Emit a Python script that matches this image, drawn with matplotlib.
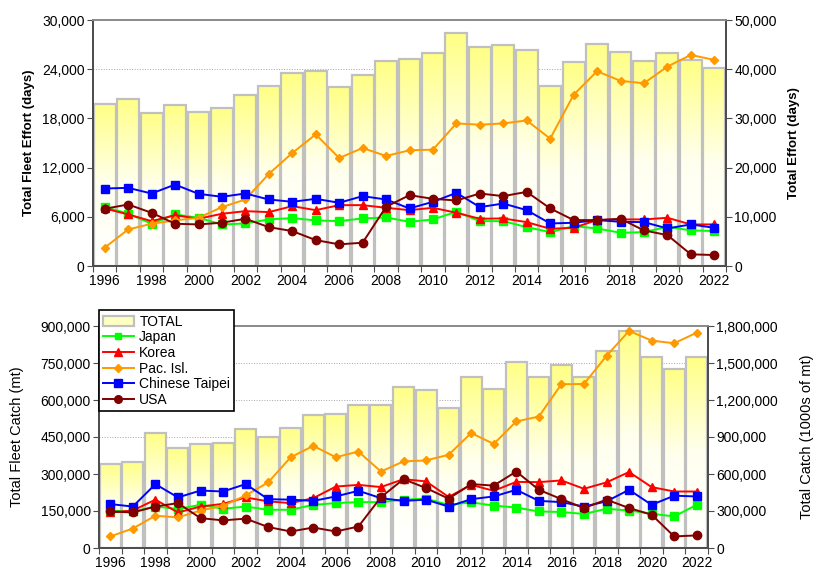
import numpy as np
import matplotlib
matplotlib.use("Agg")
import matplotlib.pyplot as plt
from matplotlib.colors import LinearSegmentedColormap
from matplotlib.patches import Patch
from matplotlib.lines import Line2D
from matplotlib.ticker import FuncFormatter, FixedLocator

plt.rcParams['font.family'] = ['Liberation Sans', 'DejaVu Sans']

# Data
years = list(range(1996, 2023))

effort_total = [32900, 34000, 31100, 32800, 31200, 32200, 34700, 36500, 39200, 39700,
                36400, 38900, 41700, 42000, 43200, 47300, 44500, 45000, 44000, 36500,
                41500, 45200, 43400, 41700, 43200, 41900, 40300]
effort_japan = [7220, 6370, 5150, 6290, 5880, 5070, 5190, 5680, 5840, 5560, 5470, 5800,
                5920, 5390, 5680, 6610, 5470, 5470, 4740, 4130, 4860, 4580, 4050, 4130,
                4780, 4340, 4260]
effort_korea = [7020, 6290, 5470, 6200, 5760, 6370, 6690, 6570, 7300, 6810, 7420, 7420,
                7100, 6810, 7100, 6490, 5760, 5800, 5350, 4540, 4660, 5600, 5680, 5680,
                5880, 5070, 5070]
effort_pacisl = [2240, 4460, 5150, 5560, 5880, 7180, 8110, 11230, 13780, 16050, 13170,
                 14390, 13420, 14110, 14190, 17390, 17230, 17390, 17750, 15530, 20880,
                 23750, 22580, 22290, 24320, 25740, 25130]
effort_taipei = [9450, 9530, 8840, 9930, 8800, 8440, 8840, 8110, 7830, 8190, 7710, 8520,
                 8110, 7020, 7830, 8920, 7180, 7620, 6810, 5190, 5270, 5600, 5390, 5350,
                 4580, 5070, 4660]
effort_usa = [6980, 7500, 6490, 5150, 5070, 5280, 5760, 4740, 4260, 3160, 2640, 2840,
              7220, 8640, 8190, 7990, 8840, 8520, 9040, 7020, 5600, 5600, 5760, 4340,
              3770, 1420, 1340]

catch_total = [683000, 694000, 936000, 810000, 845000, 855000, 966000, 901000, 977000,
               1077000, 1085000, 1158000, 1163000, 1303000, 1282000, 1136000, 1384000,
               1290000, 1506000, 1384000, 1482000, 1384000, 1600000, 1760000, 1552000,
               1455000, 1546000]
catch_japan = [152000, 148000, 168000, 158000, 175000, 159000, 168000, 155000, 155000,
               175000, 182000, 186000, 186000, 196000, 200000, 175000, 185000, 172000,
               164000, 148000, 146000, 138000, 159000, 152000, 139000, 128000, 175000]
catch_korea = [144000, 152000, 196000, 144000, 168000, 179000, 205000, 189000, 182000,
               202000, 249000, 256000, 247000, 279000, 270000, 207000, 256000, 232000,
               268000, 267000, 274000, 240000, 266000, 308000, 247000, 229000, 229000]
catch_pacisl = [47000, 79000, 131000, 124000, 152000, 171000, 213000, 266000, 368000,
                414000, 368000, 391000, 310000, 351000, 355000, 378000, 466000, 422000,
                513000, 533000, 664000, 665000, 779000, 880000, 841000, 830000, 873000]
catch_taipei = [178000, 168000, 259000, 205000, 233000, 229000, 259000, 198000, 196000,
                191000, 209000, 232000, 202000, 191000, 196000, 168000, 198000, 209000,
                236000, 191000, 186000, 168000, 189000, 236000, 175000, 212000, 209000]
catch_usa = [148000, 144000, 168000, 182000, 121000, 112000, 119000, 85000, 67000,
             83000, 67000, 87000, 206000, 279000, 243000, 200000, 259000, 253000,
             310000, 236000, 198000, 162000, 196000, 162000, 135000, 47000, 51000]

fleets = ['Japan', 'Korea', 'Pac. Isl.', 'Chinese Taipei', 'USA']
colors = ['#00FF00', '#FF0000', '#FF9900', '#0000FF', '#800000']
markers = ['s', '^', 'D', 's', 'o']
msizes = [5.5, 6, 4.5, 6, 6]

yellow = LinearSegmentedColormap.from_list('yw', ['#FFFFFF', '#FFFFF0', '#FFFF85'])
comma = FuncFormatter(lambda v, p: f'{v:,.0f}')
spine_col = '#4D4D4D'


def draw_panel(rect, totals, series, bar_max, bar_step, line_max, line_step,
               left_label, right_label, bold, lpad, rpad):
    x = np.arange(len(years))
    ax = fig.add_axes(rect)          # bars, right-hand scale
    ax2 = ax.twinx()                 # fleet lines, left-hand scale

    # yellow-to-white gradient inside every bar
    grad = np.linspace(1, 0, 256).reshape(-1, 1)
    w = 0.93
    for xi, h in zip(x, totals):
        ax.imshow(grad, extent=(xi - w / 2, xi + w / 2, 0, h), cmap=yellow,
                  vmin=0, vmax=1, aspect='auto', zorder=1, interpolation='bilinear')
    ax.bar(x, totals, width=w, facecolor='none', edgecolor='#C0C0C0',
           linewidth=1.6, zorder=2)

    for vals, c, m, ms in zip(series, colors, markers, msizes):
        ax2.plot(x, vals, color=c, marker=m, markersize=ms, linewidth=1.4)

    ax.set_xlim(-0.5, len(years) - 0.5)
    ax.set_ylim(0, bar_max)
    ax2.set_ylim(0, line_max)
    ax.yaxis.tick_right()
    ax.yaxis.set_label_position('right')
    ax2.yaxis.tick_left()
    ax2.yaxis.set_label_position('left')
    ax.set_yticks(np.arange(0, bar_max + 1, bar_step))
    ax2.set_yticks(np.arange(0, line_max + 1, line_step))
    ax.yaxis.set_major_formatter(comma)
    ax2.yaxis.set_major_formatter(comma)

    ax.set_axisbelow(True)
    ax.grid(axis='y', color='#A6A6A6', linestyle=':', linewidth=0.7)

    # ticks between categories, labels every other year
    ax.xaxis.set_major_locator(FixedLocator(np.arange(-0.5, len(years), 1)))
    ax.xaxis.set_minor_locator(FixedLocator(x[::2]))
    ax.xaxis.set_major_formatter(FuncFormatter(lambda v, p: ''))
    ax.xaxis.set_minor_formatter(FuncFormatter(lambda v, p: str(years[int(round(v))])))
    ax.tick_params(axis='x', which='major', length=4, color=spine_col)
    ax.tick_params(axis='x', which='minor', length=0, labelsize=10, pad=6)

    for a in (ax, ax2):
        a.tick_params(axis='y', length=4, color=spine_col, labelsize=10, pad=2)
        for s in a.spines.values():
            s.set_color(spine_col)
            s.set_linewidth(1.3)
        a.spines['top'].set_color('#8C8C8C')

    weight = 'bold' if bold else 'normal'
    size = 9.5 if bold else 10.5
    ax2.set_ylabel(left_label, fontsize=size, fontweight=weight, labelpad=lpad)
    ax.set_ylabel(right_label, fontsize=size, fontweight=weight, labelpad=rpad)
    return ax, ax2


fig = plt.figure(figsize=(8.22, 5.71), dpi=100)

draw_panel([93 / 822, 1 - 266 / 571, 633 / 822, 246 / 571], effort_total,
           [effort_japan, effort_korea, effort_pacisl, effort_taipei, effort_usa],
           50000, 10000, 30000, 6000,
           'Total Fleet Effort (days)', 'Total Effort (days)', True, 5, 8)

ax, ax2 = draw_panel([99 / 822, 1 - 548 / 571, 609 / 822, 222 / 571], catch_total,
                     [catch_japan, catch_korea, catch_pacisl, catch_taipei, catch_usa],
                     1800000, 300000, 900000, 150000,
                     'Total Fleet Catch (mt)', 'Total Catch (1000s of mt)', False, 12, 16)

handles = [Patch(facecolor='#FFFFC2', edgecolor='#C0C0C0', linewidth=1.6, label='TOTAL')]
for name, c, m, ms in zip(fleets, colors, markers, msizes):
    handles.append(Line2D([], [], color=c, marker=m, markersize=ms - 0.5,
                          linewidth=1.4, label=name))
leg = ax2.legend(handles=handles, loc='upper left', bbox_to_anchor=(0.0, 1.07),
                 fontsize=10, frameon=True, fancybox=False, edgecolor='black',
                 framealpha=1, handlelength=2.2, labelspacing=0.12,
                 borderpad=0.3, handletextpad=0.4, borderaxespad=0)
leg.get_frame().set_linewidth(1.2)

plt.savefig('out.png', dpi=100)
